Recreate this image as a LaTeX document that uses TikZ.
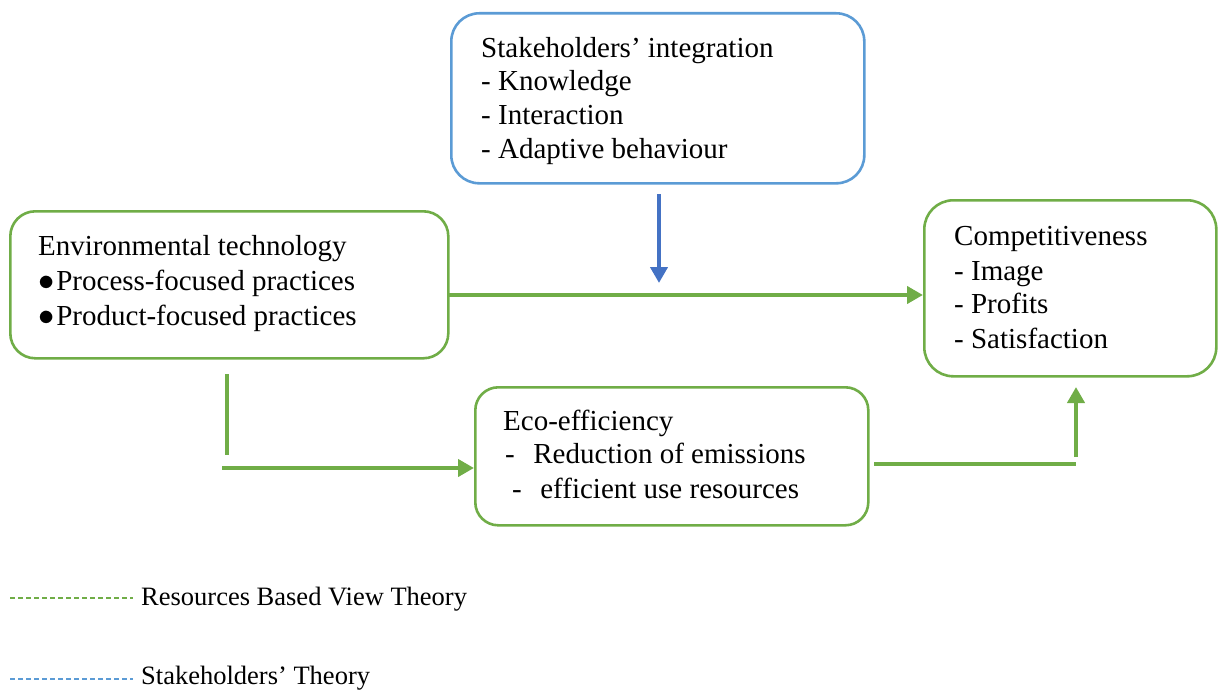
\documentclass[tikz,border=0pt]{standalone}
\usepackage{fontspec}
\setmainfont{Liberation Serif}
\usetikzlibrary{arrows.meta}
\definecolor{grn}{HTML}{70AD47}
\definecolor{blu}{HTML}{5B9BD5}
\definecolor{dblu}{HTML}{4472C4}
\begin{document}
\begin{tikzpicture}[x=1pt,y=-1pt,
  gbox/.style={draw=grn, line width=2.6pt, inner sep=0pt, anchor=north west},
  bbox/.style={draw=blu, line width=2.6pt, inner sep=0pt, anchor=north west},
  txt/.style={anchor=base west, inner sep=0pt, font=\fontsize{29}{34}\selectfont},
  legtxt/.style={anchor=base west, inner sep=0pt, font=\fontsize{26.5}{30}\selectfont},
  garrow/.style={draw=grn, line width=4pt, -{Triangle[length=16pt,width=17pt]}},
  gline/.style={draw=grn, line width=4pt},
  barrow/.style={draw=dblu, line width=4pt, -{Triangle[length=16pt,width=17pt]}},
  legline/.style={line width=1.3pt, dash pattern=on 5pt off 3pt}]
\useasboundingbox (0,0) rectangle (1218,690);

% boxes
\node[bbox, rounded corners=28pt, minimum width=413pt, minimum height=170pt] (stake) at (450,12) {};
\node[gbox, rounded corners=25pt, minimum width=438pt, minimum height=147pt] (env) at (9,210) {};
\node[gbox, rounded corners=29pt, minimum width=292pt, minimum height=176pt] (comp) at (923,199) {};
\node[gbox, rounded corners=23pt, minimum width=393pt, minimum height=138pt] (eco) at (474,386) {};

% texts
\node[txt] (s1) at (481,58) {Stakeholders’ integration};
\node[txt] (s2) at (481,91) {- Knowledge};
\node[txt] (s3) at (481,125) {- Interaction};
\node[txt] (s4) at (481,158) {- Adaptive behaviour};

\node[txt] (e1) at (38,255) {Environmental technology};
\node[txt] (e2) at (38,290) {\scalebox{1.3}{$\bullet$}\hspace{2pt}Process-focused practices};
\node[txt] (e3) at (38,325) {\scalebox{1.3}{$\bullet$}\hspace{2pt}Product-focused practices};

\node[txt] (c1) at (954,245) {Competitiveness};
\node[txt] (c2) at (954,280) {- Image};
\node[txt] (c3) at (954,313) {- Profits};
\node[txt] (c4) at (954,348) {- Satisfaction};

\node[txt] (f1) at (503,430) {Eco-efficiency};
\node[txt] (f2) at (505,463) {-\hspace{18.5pt}Reduction of emissions};
\node[txt] (f3) at (512,498) {-\hspace{18.5pt}efficient use resources};

% connectors
\coordinate (b1) at (659,194);
\coordinate (b2) at (659,283);
\draw[barrow] (b1) -- (b2);

\coordinate (a1) at (449,295);
\draw[garrow] (a1) -- (a1 -| comp.west);

\coordinate (v1) at (227,374);
\coordinate (v2) at (227,455);
\draw[gline] (v1) -- (v2);

\coordinate (h1) at (222,468);
\draw[garrow] (h1) -- (h1 -| eco.west);

\coordinate (k1) at (874,464);
\coordinate (k2) at (1076,464);
\draw[gline] (k1) -- (k2);

\coordinate (u1) at (1076,457);
\coordinate (u2) at (1076,387);
\draw[garrow] (u1) -- (u2);

% legend
\coordinate (lg1) at (10,598);
\coordinate (lg2) at (133,598);
\draw[legline, draw=grn] (lg1) -- (lg2);
\node[legtxt] (l1) at (141,605) {Resources Based View Theory};

\coordinate (lb1) at (10,679);
\coordinate (lb2) at (133,679);
\draw[legline, draw=blu] (lb1) -- (lb2);
\node[legtxt] (l2) at (141,684) {Stakeholders’ Theory};
\end{tikzpicture}
\end{document}
